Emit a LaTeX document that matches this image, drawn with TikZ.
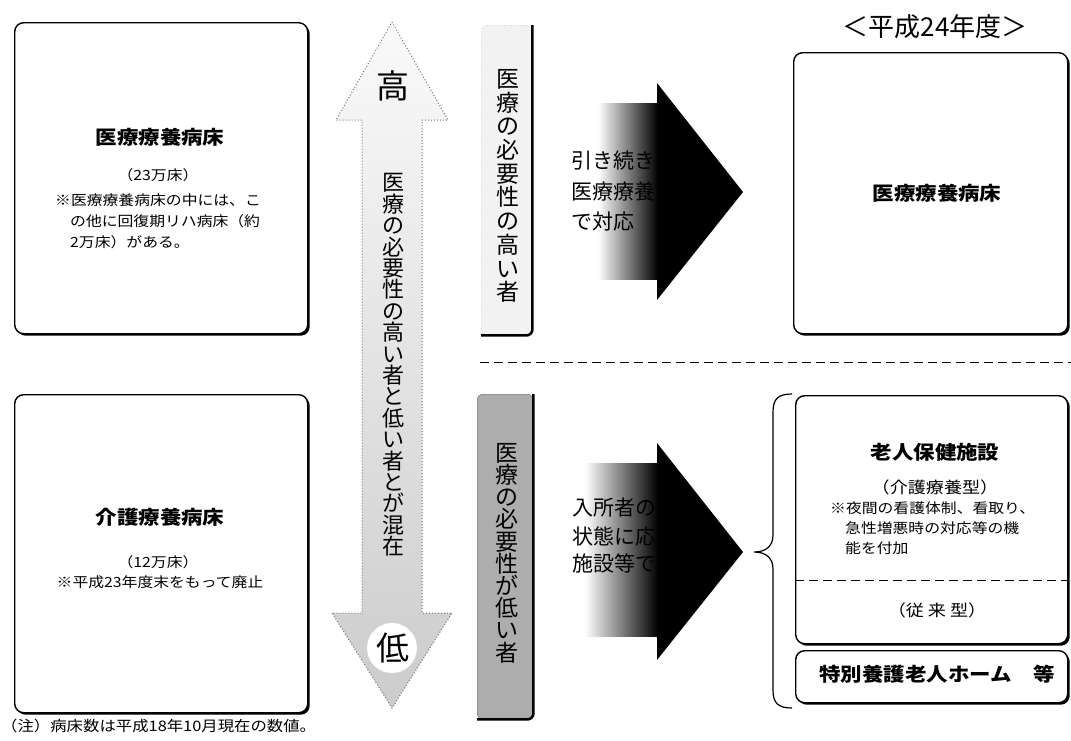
\documentclass[tikz,border=0pt]{standalone}
\usepackage{fontspec}
\setmainfont{Noto Sans CJK JP}
\usepackage{graphicx}
\usetikzlibrary{fadings,shadows}
\tikzfading[name=arrowfade, left color=transparent!100, right color=transparent!0]
\newcommand\hs[1]{\scalebox{1.13}[1]{#1}}
\newcommand\nolsk{\lineskiplimit=-100pt\relax}
\begin{document}
\begin{tikzpicture}[x=1pt,y=-1pt,
  box/.style={draw=black, line width=1.4pt, fill=white, rounded corners=9pt, inner sep=0pt, anchor=north west,
     drop shadow={shadow xshift=2pt, shadow yshift=-2pt, opacity=1, fill=black}},
  ttl/.style={font=\fontsize{19}{22}\selectfont\bfseries, inner sep=0pt},
  sm/.style={font=\fontsize{14}{16}\selectfont, inner sep=0pt},
  md/.style={font=\fontsize{16}{18}\selectfont, inner sep=0pt},
  vt/.style={align=center, inner sep=0pt},
  arrtxt/.style={font=\fontsize{21}{22}\selectfont, inner sep=0pt, anchor=west},
  edge/.style={line width=2.6pt, rounded corners=6pt},
  sep/.style={dash pattern=on 9pt off 5pt, line width=1pt},
]
\useasboundingbox (0,0) rectangle (1071,740);

% ---------- left boxes ----------
\node[box, minimum width=293pt, minimum height=311pt] (tl) at (14,22) {};
\node[ttl] (tlt) at (160,137) {\hs{医療療養病床}};
\node[sm] (tln) at (158,175) {\hs{（23万床）}};
\node[sm, anchor=west] (tl1) at (55,200) {\hs{※医療療養病床の中には、こ}};
\node[sm, anchor=west] (tl2) at (70,221) {\hs{の他に回復期リハ病床（約}};
\node[sm, anchor=west] (tl3) at (70,242) {\hs{2万床）がある。}};

\node[box, minimum width=293pt, minimum height=318pt] (bl) at (14,394) {};
\node[ttl] (blt) at (160,517) {\hs{介護療養病床}};
\node[sm] (bln) at (158,562) {\hs{（12万床）}};
\node[sm] (bl1) at (160,582) {\hs{※平成23年度末をもって廃止}};
\node[font=\fontsize{14.5}{16}\selectfont, inner sep=0pt, anchor=west] (note) at (1,726) {\hs{（注）病床数は平成18年10月現在の数値。}};

% ---------- middle double arrow ----------
\path[draw=black!55, dotted, line width=1pt, top color=black!2, bottom color=black!20]
  (392,22) -- (448,120) -- (422,120) -- (422,613) -- (452,613) -- (392,708)
  -- (332,613) -- (362,613) -- (362,120) -- (336,120) -- cycle;
\fill[white] (392,648) circle (25);
\node[font=\fontsize{33}{34}\selectfont, inner sep=0pt] (hi) at (393,86) {高};
\node[font=\fontsize{33}{34}\selectfont, inner sep=0pt] (lo) at (393,648) {低};
\node[vt, font=\fontsize{22}{21.4}\selectfont\nolsk] (mix) at (393,365)
  {医\\療\\の\\必\\要\\性\\の\\高\\い\\者\\と\\低\\い\\者\\と\\が\\混\\在};

% ---------- tall label boxes ----------
\node[draw=black!50, dotted, fill=black!5, rounded corners=6pt, minimum width=51pt, minimum height=310pt, anchor=north west, inner sep=0pt] (hb) at (481,25) {};
\draw[edge] (hb.north east) -- (hb.south east) -- (hb.south west);
\node[vt, font=\fontsize{23}{23.7}\selectfont\nolsk] (hbt) at (508,186)
  {医\\療\\の\\必\\要\\性\\の\\高\\い\\者};

\node[draw=black!60, fill=black!32, rounded corners=6pt, minimum width=56pt, minimum height=325pt, anchor=north west, inner sep=0pt] (lb) at (477,394) {};
\draw[edge] (lb.north east) -- (lb.south east) -- (lb.south west);
\node[vt, font=\fontsize{23}{22.2}\selectfont\nolsk] (lbt) at (507,553)
  {医\\療\\の\\必\\要\\性\\が\\低\\い\\者};

% ---------- big arrows ----------
\node[arrtxt] (u1) at (571,161) {引き続き};
\node[arrtxt] (u2) at (571,192) {医療療養};
\node[arrtxt] (u3) at (571,222) {で対応};
\fill[black, path fading=arrowfade] (598,103) rectangle (658,280);
\fill[black] (657,83) -- (743,192) -- (657,300) -- cycle;

\node[arrtxt] (d1) at (572,508) {入所者の};
\node[arrtxt] (d2) at (572,536) {状態に応};
\node[arrtxt] (d3) at (572,563) {施設等で};
\fill[black, path fading=arrowfade] (585,463) rectangle (658,637);
\fill[black] (657,443) -- (743,552) -- (657,660) -- cycle;

% ---------- right side ----------
\node[font=\fontsize{26}{28}\selectfont, inner sep=0pt] (year) at (935,27) {＜平成24年度＞};

\node[box, minimum width=274pt, minimum height=281pt] (tr) at (793,52) {};
\node[ttl] (trt) at (937,193) {\hs{医療療養病床}};

\draw[sep] (480,362) -- (1071,362);

\draw[line width=1.2pt] (792,394) .. controls (778,394) and (773,399) .. (773,412)
  -- (773,535) .. controls (773,546) and (766,552) .. (754,552)
  .. controls (766,552) and (773,558) .. (773,569)
  -- (773,690) .. controls (773,703) and (778,708) .. (792,708);

\node[box, minimum width=272pt, minimum height=248pt] (br1) at (795,395) {};
\node[ttl] (br1t) at (935,452) {\hs{老人保健施設}};
\node[md] (br1s) at (935,487) {\hs{（介護療養型）}};
\node[sm, anchor=west] (br1a) at (830,508) {\hs{※夜間の看護体制、看取り、}};
\node[sm, anchor=west] (br1b) at (845,528) {\hs{急性増悪時の対応等の機}};
\node[sm, anchor=west] (br1c) at (845,548) {\hs{能を付加}};
\draw[sep] (br1.west |- 0,580) -- (br1.east |- 0,580);
\node[md] (br1d) at (937,610) {\hs{（従 来 型）}};

\node[box, minimum width=272pt, minimum height=52pt] (br2) at (795,650) {};
\node[ttl] (br2t) at (937,674) {\hs{特別養護老人ホーム　等}};
\end{tikzpicture}
\end{document}
